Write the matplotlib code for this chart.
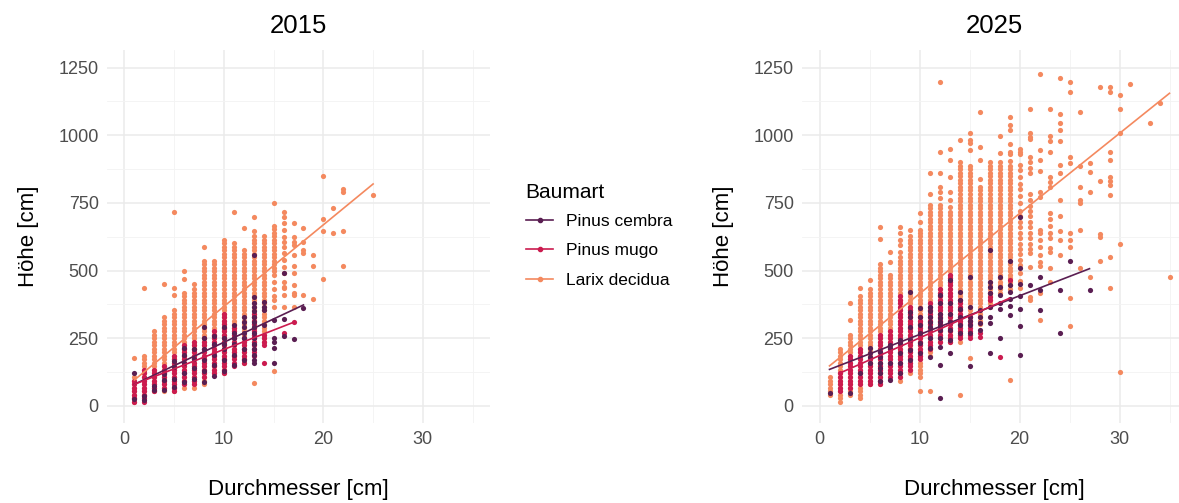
import matplotlib
matplotlib.use("Agg")
import matplotlib.pyplot as plt
from matplotlib.lines import Line2D
import numpy as np

plt.rcParams['font.family'] = ['Liberation Sans', 'DejaVu Sans']

# Baumarten und Farben
arten = ["Pinus cembra", "Pinus mugo", "Larix decidua"]
farben = {"Pinus cembra": "#5A1E52", "Pinus mugo": "#CB1B4F", "Larix decidua": "#F4895F"}

# Höhen je Durchmesser (cm)
larix_2015 = {
    1: [16, 29, 42, 55, 68, 81, 94, 107, 176],
    2: [42, 55, 68, 81, 94, 107, 120, 133, 146, 159, 172, 185, 437],
    3: [55, 68, 81, 94, 107, 120, 133, 146, 159, 172, 185, 198, 211, 224, 237, 250, 263, 276],
    4: [55, 68, 81, 94, 107, 120, 133, 146, 159, 172, 185, 198, 211, 224, 237, 250, 263, 276, 289, 302,
        315, 328, 449],
    5: [55, 68, 81, 94, 107, 120, 133, 146, 159, 172, 185, 198, 211, 224, 237, 250, 263, 276, 289, 302,
        315, 328, 341, 354, 409, 437, 718],
    6: [68, 81, 94, 107, 120, 133, 146, 159, 172, 185, 198, 211, 224, 237, 250, 263, 276, 289, 302, 315,
        328, 341, 354, 367, 380, 393, 406, 419, 469, 500],
    7: [68, 81, 94, 107, 120, 133, 146, 159, 172, 185, 198, 211, 224, 237, 250, 263, 276, 289, 302, 315,
        328, 341, 354, 367, 380, 393, 406, 419, 432, 450],
    8: [81, 94, 107, 120, 133, 146, 159, 172, 185, 198, 211, 224, 237, 250, 263, 276, 289, 302, 315, 328,
        341, 354, 367, 380, 393, 406, 419, 432, 445, 458, 471, 484, 497, 510, 523, 536, 588],
    9: [120, 133, 146, 159, 172, 185, 198, 211, 224, 237, 250, 263, 276, 289, 302, 315, 328, 341, 354, 367,
        380, 393, 406, 419, 432, 445, 458, 471, 484, 497, 510, 523, 536],
    10: [120, 133, 146, 159, 172, 185, 198, 211, 224, 237, 250, 263, 276, 289, 302, 315, 328, 341, 354, 367,
         380, 393, 406, 419, 432, 445, 458, 471, 484, 497, 510, 523, 536, 549, 562, 575, 588, 601, 614],
    11: [185, 198, 211, 224, 237, 250, 263, 276, 289, 302, 315, 328, 341, 354, 367, 380, 393, 406, 419, 432,
         445, 458, 471, 484, 497, 510, 523, 536, 549, 562, 575, 588, 601, 716],
    12: [159, 172, 185, 198, 211, 224, 237, 250, 263, 276, 289, 302, 315, 328, 341, 354, 367, 380, 393, 406,
         419, 432, 445, 458, 471, 484, 497, 510, 523, 536, 549, 562, 575, 658],
    13: [84, 237, 250, 263, 276, 289, 302, 315, 328, 341, 354, 367, 380, 393, 406, 419, 432, 445, 458, 471,
         484, 497, 510, 523, 536, 549, 562, 575, 588, 601, 614, 627, 647, 699],
    14: [237, 250, 263, 276, 289, 302, 315, 328, 341, 354, 367, 380, 393, 406, 419, 432, 445, 458, 471, 484,
         497, 510, 523, 536, 549, 562, 575, 588, 601, 614, 627],
    15: [129, 367, 393, 406, 432, 458, 484, 497, 510, 523, 536, 549, 562, 575, 588, 601, 614, 627, 640, 653,
         666, 748],
    16: [367, 409, 435, 441, 459, 490, 515, 539, 564, 588, 607, 625, 650, 677, 699, 718],
    17: [367, 409, 416, 447, 490, 518, 558, 595, 607, 625, 677],
    18: [409, 564, 576, 607, 658],
    19: [394, 518, 558],
    20: [469, 647, 690, 849],
    21: [640, 730],
    22: [518, 647, 791, 800],
    25: [779],
}
mugo_2015 = {
    1: [16, 29, 42, 55, 68, 81, 94],
    2: [16, 29, 42, 55, 68, 81, 94, 107, 120, 133],
    3: [55, 68, 81, 94, 107, 120, 133],
    4: [68, 81, 94, 107, 120, 133, 146],
    5: [55, 68, 81, 94, 107, 120, 133, 146, 159, 172, 185],
    6: [81, 94, 107, 120, 133, 146, 159, 172, 185, 198, 211, 224],
    7: [81, 94, 107, 120, 133, 146, 159, 172, 185, 198, 211, 224, 237],
    8: [107, 120, 133, 146, 159, 172, 185, 198, 211, 224, 237, 250],
    9: [120, 133, 146, 159, 172, 185, 198, 211, 224, 237, 250, 263, 276],
    10: [120, 133, 146, 159, 172, 185, 198, 211, 224, 237, 250, 263, 276, 289, 302, 315, 328, 341],
    11: [146, 159, 172, 185, 198, 211, 224, 237, 250, 263, 276, 289],
    12: [159, 172, 185, 198, 211, 224, 237, 250],
    13: [185, 198, 211, 224, 237, 250, 263, 276, 289, 302, 315, 328, 341],
    14: [159, 224, 237, 250, 263],
    16: [268],
    17: [309],
}
cembra_2015 = {
    1: [25, 121],
    2: [22, 35],
    3: [60, 75],
    4: [60, 95, 118],
    5: [70, 100, 145, 165],
    6: [90, 120, 160, 190, 215],
    7: [100, 140, 175, 210],
    8: [90, 130, 170, 210, 250, 290],
    9: [110, 150, 190, 230, 260],
    10: [130, 170, 210, 230, 250, 290],
    11: [150, 190, 230, 250, 270, 300],
    12: [170, 210, 250, 270, 290, 310, 330],
    13: [158, 170, 190, 210, 230, 250, 270, 290, 310, 330, 350, 365, 380, 404, 558],
    14: [300, 355, 367, 385],
    15: [158, 213, 238, 250, 318],
    16: [260, 320, 490],
    17: [247],
    18: [361],
}

larix_2025 = {
    1: [42, 55, 68, 81, 94, 107],
    2: [16, 29, 42, 55, 68, 81, 94, 107, 120, 133, 146, 159, 172, 185, 198, 211],
    3: [42, 55, 68, 81, 94, 107, 120, 133, 146, 159, 172, 185, 198, 211, 224, 237, 250, 263, 318, 379],
    4: [29, 42, 55, 68, 81, 94, 107, 120, 133, 146, 159, 172, 185, 198, 211, 224, 237, 250, 263, 276,
        289, 302, 315, 328, 341, 354, 367, 380, 393, 406, 435],
    5: [81, 94, 107, 120, 133, 146, 159, 172, 185, 198, 211, 224, 237, 250, 263, 276, 289, 302, 315, 328,
        341, 354, 367, 380, 393, 406, 419, 432, 465],
    6: [81, 94, 107, 120, 133, 146, 159, 172, 185, 198, 211, 224, 237, 250, 263, 276, 289, 302, 315, 328,
        341, 354, 367, 380, 393, 406, 419, 432, 445, 458, 471, 484, 497, 510, 523, 617, 660],
    7: [120, 133, 146, 159, 172, 185, 198, 211, 224, 237, 250, 263, 276, 289, 302, 315, 328, 341, 354, 367,
        380, 393, 406, 419, 432, 445, 458, 471, 484, 533, 570],
    8: [94, 107, 120, 133, 146, 159, 172, 185, 198, 211, 224, 237, 250, 263, 276, 289, 302, 315, 328, 341,
        354, 367, 380, 393, 406, 419, 432, 445, 458, 471, 484, 497, 510, 523, 536, 549, 570, 595, 613, 638,
        660],
    9: [120, 133, 146, 159, 172, 185, 198, 211, 224, 237, 250, 263, 276, 289, 302, 315, 328, 341, 354, 367,
        380, 393, 406, 419, 432, 445, 458, 471, 484, 497, 510, 523, 536, 549, 562, 575, 588, 601, 614, 627,
        650],
    10: [55, 107, 120, 133, 146, 159, 172, 185, 198, 211, 224, 237, 250, 263, 276, 289, 302, 315, 328, 341,
         354, 367, 380, 393, 406, 419, 432, 445, 458, 471, 484, 497, 510, 523, 536, 549, 562, 575, 588, 601,
         614, 627, 640, 650, 681, 711],
    11: [55, 185, 198, 211, 224, 237, 250, 263, 276, 289, 302, 315, 328, 341, 354, 367, 380, 393, 406, 419,
         432, 445, 458, 471, 484, 497, 510, 523, 536, 549, 562, 575, 588, 601, 614, 627, 640, 653, 666, 679,
         692, 705, 718, 731, 744, 782, 859],
    12: [237, 250, 263, 276, 289, 302, 315, 328, 341, 354, 367, 380, 393, 406, 419, 432, 445, 458, 471, 484,
         497, 510, 523, 536, 549, 562, 575, 588, 601, 614, 627, 640, 653, 666, 679, 692, 705, 718, 731, 744,
         767, 792, 810, 859, 939, 1198],
    13: [237, 250, 263, 276, 289, 302, 315, 328, 341, 354, 367, 380, 393, 406, 419, 432, 445, 458, 471, 484,
         497, 510, 523, 536, 549, 562, 575, 588, 601, 614, 627, 640, 653, 666, 679, 692, 705, 718, 736, 760,
         792, 847, 908, 951],
    14: [42, 237, 250, 263, 276, 289, 302, 315, 328, 341, 354, 367, 380, 393, 406, 419, 432, 445, 458, 471,
         484, 497, 510, 523, 536, 549, 562, 575, 588, 601, 614, 627, 640, 653, 666, 679, 692, 705, 718, 731,
         744, 757, 770, 783, 796, 809, 822, 835, 848, 861, 874, 887, 900, 982],
    15: [178, 315, 328, 341, 354, 367, 380, 393, 406, 419, 432, 445, 458, 471, 484, 497, 510, 523, 536, 549,
         562, 575, 588, 601, 614, 627, 640, 653, 666, 679, 692, 705, 718, 731, 744, 757, 770, 783, 796, 809,
         822, 835, 848, 861, 874, 887, 945, 970, 982, 1007],
    16: [302, 315, 328, 341, 354, 367, 380, 393, 406, 419, 432, 445, 458, 471, 484, 497, 510, 523, 536, 549,
         562, 575, 588, 601, 614, 627, 640, 653, 666, 679, 692, 705, 718, 731, 744, 757, 770, 783, 796, 809,
         840, 908, 958, 1087],
    17: [367, 380, 393, 406, 419, 432, 445, 458, 471, 484, 497, 510, 523, 536, 549, 562, 575, 588, 601, 614,
         627, 640, 653, 666, 679, 692, 705, 718, 731, 744, 757, 770, 783, 796, 809, 822, 835, 848, 861, 874,
         887, 900],
    18: [419, 432, 445, 458, 471, 484, 497, 510, 523, 536, 549, 562, 575, 588, 601, 614, 627, 640, 653, 666,
         679, 692, 705, 718, 731, 744, 757, 770, 783, 796, 809, 822, 835, 848, 861, 874, 887, 900, 933, 997],
    19: [96, 432, 445, 458, 471, 484, 497, 510, 523, 536, 549, 562, 575, 588, 601, 614, 627, 640, 653, 666,
         679, 692, 705, 718, 731, 744, 757, 770, 783, 796, 809, 822, 835, 848, 861, 874, 887, 906, 929, 938,
         969, 1019, 1037, 1068],
    20: [435, 460, 490, 520, 540, 560, 580, 600, 620, 640, 660, 680, 700, 720, 750, 775, 800, 820, 845, 870,
         890, 932, 940, 950],
    21: [391, 404, 515, 564, 580, 600, 620, 640, 660, 680, 700, 720, 740, 760, 782, 859, 880, 900, 921, 985,
         995, 1007, 1097],
    22: [318, 416, 518, 533, 557, 588, 613, 638, 650, 773, 792, 868, 908, 947, 1228],
    23: [459, 511, 570, 582, 619, 640, 665, 690, 712, 810, 828, 847, 938, 978, 997, 1097],
    24: [557, 613, 645, 700, 760, 860, 890, 978, 1019, 1046, 1078, 1210],
    25: [297, 398, 588, 613, 640, 898, 920, 1159, 1198],
    26: [508, 650, 750, 760, 810, 886, 1087],
    27: [478, 789, 865, 898],
    28: [537, 625, 637, 831, 1179],
    29: [437, 549, 780, 816, 830, 847, 908, 938, 1158, 1179],
    30: [124, 598, 1007, 1097, 1148],
    31: [1188],
    33: [1047],
    34: [1120],
    35: [478],
}
mugo_2025 = {
    2: [55, 68, 81, 94, 107, 120],
    3: [68, 81, 94, 107, 120, 133, 146, 159, 172, 185],
    4: [81, 94, 107, 120, 133, 146, 159, 172, 185, 198, 211],
    5: [81, 94, 107, 120, 133, 146, 159, 172],
    6: [81, 94, 107, 120, 133, 146, 159, 172, 185, 198, 211, 224, 237, 250, 263],
    7: [107, 120, 133, 146, 159, 172, 185, 198, 211, 224, 237, 250, 263, 276],
    8: [107, 120, 133, 146, 159, 172, 185, 198, 211, 224, 237, 250, 263, 276, 289, 302, 315, 328, 341, 354,
        367, 380, 393, 406],
    9: [133, 146, 159, 172, 185, 198, 211, 224, 237, 250, 263, 276, 289, 302, 315, 328, 341, 354, 367],
    10: [172, 185, 198, 211, 224, 237, 250, 263, 276, 289, 302, 315, 328],
    11: [211, 224, 237, 250, 263, 276, 289, 302, 315, 328, 341, 354, 367, 380],
    12: [237, 250, 263, 276, 289, 302, 315, 328, 341, 354, 367, 380, 393, 406, 419, 432],
    13: [237, 250, 263, 276, 289, 302, 315, 328, 341, 354, 367, 380, 393, 406, 419, 432, 445, 458, 471, 484],
    14: [250, 263, 276, 289, 302, 315, 328, 341, 354, 367, 380, 393],
    15: [250, 263, 276, 289, 302, 315, 328],
    16: [256, 268],
    17: [391, 404, 416],
    18: [180],
    19: [465],
}
cembra_2025 = {
    1: [47],
    3: [49],
    4: [121],
    5: [158, 182, 194, 213],
    6: [94, 121, 140, 160, 182, 200],
    7: [96, 158, 213, 225],
    8: [121, 158, 194, 231, 244],
    9: [170, 207, 245, 293, 330, 348, 422],
    10: [194, 231, 268, 300, 330, 361],
    11: [182, 215, 250, 290, 310, 330, 350, 367],
    12: [28, 151, 219, 250, 280, 295, 310, 325, 340, 379, 410],
    13: [194, 244, 280, 310, 340, 379, 465],
    14: [270, 300, 330, 360, 391, 422],
    15: [148, 270, 300, 315, 330, 367, 478],
    16: [281, 305, 330, 355],
    17: [197, 305, 330, 367, 416, 440, 459, 576],
    18: [250, 358, 380, 410, 440, 478],
    19: [336, 370, 395, 420, 447, 535],
    20: [187, 296, 357, 406, 450, 508, 699],
    21: [447],
    22: [354, 428, 478],
    24: [268, 428],
    25: [535],
    27: [428],
}

# lineare Trends (Achsenabschnitt, Steigung)
trend_2015 = {"Pinus cembra": (62.8, 17.24), "Pinus mugo": (65.7, 14.31), "Larix decidua": (65.8, 30.17)}
trend_2025 = {"Pinus cembra": (120.7, 14.31), "Pinus mugo": (88.4, 16.29), "Larix decidua": (118.4, 29.62)}

jahre = ["2015", "2025"]
daten = {
    "2015": {"Larix decidua": larix_2015, "Pinus mugo": mugo_2015, "Pinus cembra": cembra_2015},
    "2025": {"Larix decidua": larix_2025, "Pinus mugo": mugo_2025, "Pinus cembra": cembra_2025},
}
trends = {"2015": trend_2015, "2025": trend_2025}

W, H = 1179, 503
fig = plt.figure(figsize=(W / 100, H / 100), dpi=100)
ax_pos = {"2015": [107 / W, 80 / H, 383 / W, 373 / H],
          "2025": [802 / W, 80 / H, 385 / W, 373 / H]}

for jahr in jahre:
    ax = fig.add_axes(ax_pos[jahr])
    # Punkte
    for art in ["Larix decidua", "Pinus mugo", "Pinus cembra"]:
        tab = daten[jahr][art]
        xs = [d for d, hs in tab.items() for h in hs]
        ys = [h for d, hs in tab.items() for h in hs]
        ax.scatter(xs, ys, s=14, color=farben[art], linewidths=0, zorder=2)
    # Trendlinien
    for art in arten:
        tab = daten[jahr][art]
        a, b = trends[jahr][art]
        xl = np.array([min(tab), max(tab)])
        ax.plot(xl, a + b * xl, color=farben[art], lw=1.2, zorder=3)

    ax.set_xlim(-1.75, 36.75)
    ax.set_ylim(-63, 1315)
    ax.set_xticks([0, 10, 20, 30])
    ax.set_xticks([5, 15, 25, 35], minor=True)
    ax.set_yticks([0, 250, 500, 750, 1000, 1250])
    ax.set_yticks([125, 375, 625, 875, 1125], minor=True)
    ax.grid(which="major", color="#EBEBEB", lw=1.1, zorder=0)
    ax.grid(which="minor", color="#F3F3F3", lw=0.6, zorder=0)
    ax.set_axisbelow(True)
    for s in ax.spines.values():
        s.set_visible(False)
    ax.tick_params(which="both", length=0, labelsize=13, labelcolor="#4D4D4D", pad=6)
    ax.set_title(jahr, fontsize=18.5, pad=12)
    ax.set_xlabel("Durchmesser [cm]", fontsize=16, labelpad=22)
    ax.set_ylabel("Höhe [cm]", fontsize=16, labelpad=14)

handles = [Line2D([0], [0], color=farben[a], lw=1.2, marker="o", markersize=3) for a in arten]
leg = fig.legend(handles, arten, title="Baumart", loc="upper left", bbox_to_anchor=(510 / W, 1 - 165 / H),
                 frameon=False, fontsize=12.5, title_fontsize=15, handlelength=1.6, handletextpad=0.7,
                 labelspacing=0.82, alignment="left")
leg.get_title().set_position((0, -2))

fig.savefig("out.png", dpi=100)
